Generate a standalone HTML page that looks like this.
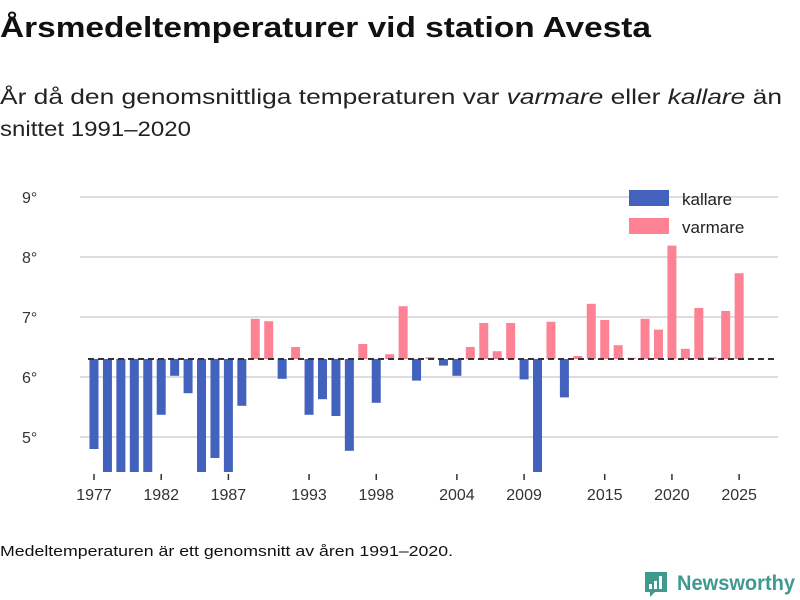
<!DOCTYPE html>
<html><head><meta charset="utf-8"><style>
html,body{margin:0;padding:0;background:#fff;}
svg{display:block;font-family:"Liberation Sans","DejaVu Sans",sans-serif;}
</style></head><body>
<svg id="chart" width="800" height="600" viewBox="0 0 800 600">
<text x="0" y="37" font-size="29" font-weight="bold" fill="#111" textLength="651" lengthAdjust="spacingAndGlyphs">Årsmedeltemperaturer vid station Avesta</text>
<text x="0" y="104" font-size="21" fill="#222" textLength="782" lengthAdjust="spacingAndGlyphs">År då den genomsnittliga temperaturen var <tspan font-style="italic">varmare</tspan> eller <tspan font-style="italic">kallare</tspan> än</text>
<text x="0" y="136" font-size="21" fill="#222" textLength="191" lengthAdjust="spacingAndGlyphs">snittet 1991–2020</text>
<g id="grid"></g>
<g id="yticks"></g>
<defs><clipPath id="plotclip"><rect x="80" y="170" width="700" height="302"/></clipPath></defs>
<g id="bars" clip-path="url(#plotclip)"></g>
<line id="baseline" x1="88" x2="778" stroke="#333" stroke-width="2" stroke-dasharray="6,4"/>
<g id="xticks"></g>
<g>
<rect x="629" y="190" width="40" height="16" fill="#4262bd"/>
<text x="682" y="205" font-size="17" fill="#222">kallare</text>
<rect x="629" y="218" width="40" height="16" fill="#fd8394"/>
<text x="682" y="233" font-size="17" fill="#222">varmare</text>
</g>
<text x="0" y="556" font-size="15" fill="#111" textLength="453" lengthAdjust="spacingAndGlyphs">Medeltemperaturen är ett genomsnitt av åren 1991–2020.</text>
<g>
<path d="M645 572 h22 v20 h-12 l-5 5 v-5 h-5 z" fill="#3e9a8f"/>
<rect x="649" y="584" width="3" height="5" fill="#fff"/><rect x="654" y="581" width="3" height="8" fill="#fff"/><rect x="659" y="576" width="3" height="13" fill="#fff"/>
<text x="677" y="590" font-size="21" font-weight="bold" fill="#3e9a8f" textLength="118" lengthAdjust="spacingAndGlyphs">Newsworthy</text>
</g>
</svg>
<script>
const years = [1977,1978,1979,1980,1981,1982,1983,1984,1985,1986,1987,1988,1989,1990,1991,1992,1993,1994,1995,1996,1997,1998,1999,2000,2001,2002,2003,2004,2005,2006,2007,2008,2009,2010,2011,2012,2013,2014,2015,2016,2017,2018,2019,2020,2021,2022,2023,2024,2025];
const temps = [4.8,4.3,4.3,4.3,4.3,5.37,6.02,5.73,4.3,4.65,4.3,5.52,6.97,6.93,5.97,6.5,5.37,5.63,5.35,4.77,6.55,5.57,6.38,7.18,5.94,6.33,6.19,6.02,6.5,6.9,6.43,6.9,5.96,4.3,6.92,5.66,6.35,7.22,6.95,6.53,6.32,6.97,6.79,8.19,6.47,7.15,6.33,7.1,7.73];
const mean = 6.3;
const yTicks = [5,6,7,8,9];
const xTickYears = [1977,1982,1987,1993,1998,2004,2009,2015,2020,2025];
const NS = "http://www.w3.org/2000/svg";
const xS = y => 94 + (y - 1977) * 13.44;
const yS = v => 377 - (v - 6) * 60;
const grid = document.getElementById('grid'), yt = document.getElementById('yticks');
yTicks.forEach(t => {
  const l = document.createElementNS(NS,'line');
  l.setAttribute('x1',80); l.setAttribute('x2',778); l.setAttribute('y1',yS(t)); l.setAttribute('y2',yS(t));
  l.setAttribute('stroke','#ddd'); l.setAttribute('stroke-width','2');
  
  
  grid.appendChild(l);
  const tx = document.createElementNS(NS,'text');
  tx.setAttribute('x',22); tx.setAttribute('y',yS(t)+6); tx.setAttribute('font-size','16'); tx.setAttribute('fill','#333');
  tx.textContent = t + '°';
  
  
  yt.appendChild(tx);
});
const bars = document.getElementById('bars');
years.forEach((yr,i) => {
  const v = temps[i];
  const r = document.createElementNS(NS,'rect');
  const top = Math.min(yS(v), yS(mean)), h = Math.abs(yS(v) - yS(mean));
  r.setAttribute('x', xS(yr) - 4.5); r.setAttribute('width', 9);
  r.setAttribute('y', top); r.setAttribute('height', h);
  r.setAttribute('fill', v >= mean ? '#fd8394' : '#4262bd');
  
  
  bars.appendChild(r);
});
const bl = document.getElementById('baseline');
bl.setAttribute('y1', yS(mean)); bl.setAttribute('y2', yS(mean));
const xt = document.getElementById('xticks');
xTickYears.forEach(yr => {
  const l = document.createElementNS(NS,'line');
  l.setAttribute('x1',xS(yr)); l.setAttribute('x2',xS(yr)); l.setAttribute('y1',474); l.setAttribute('y2',480);
  l.setAttribute('stroke','#333'); l.setAttribute('stroke-width','1.5');
  
  
  xt.appendChild(l);
  const tx = document.createElementNS(NS,'text');
  tx.setAttribute('x',xS(yr)); tx.setAttribute('y',500); tx.setAttribute('font-size','16');
  tx.setAttribute('fill','#333'); tx.setAttribute('text-anchor','middle');
  tx.textContent = yr;
  
  
  xt.appendChild(tx);
});
</script>
</body></html>
